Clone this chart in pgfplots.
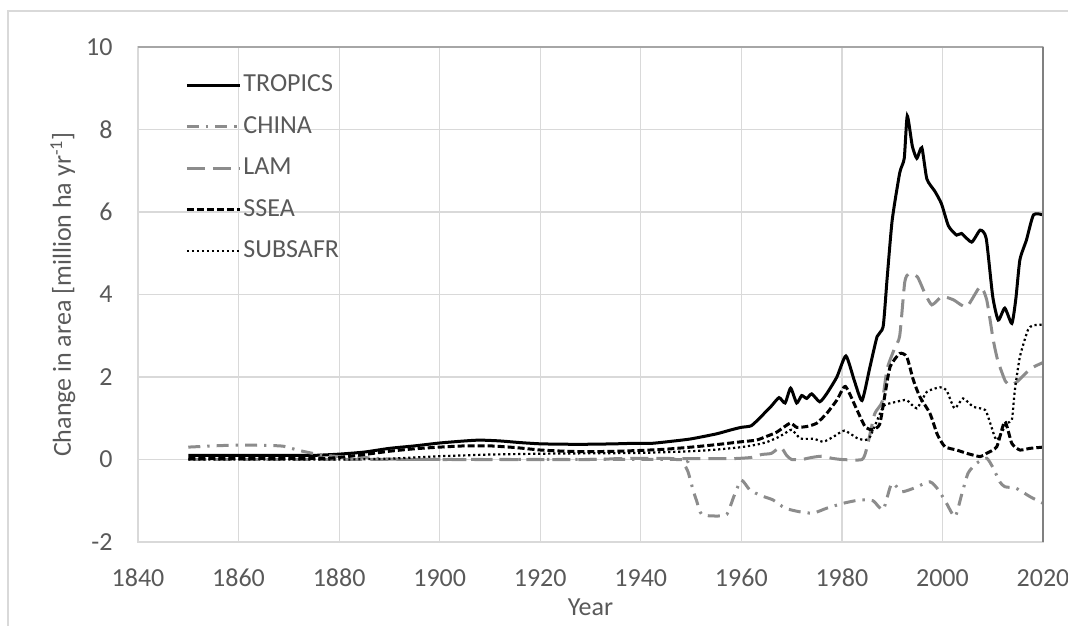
\documentclass[border=0pt]{standalone}
\usepackage{fontspec}
\setmainfont{Carlito}
\usepackage{pgfplots}
\pgfplotsset{compat=1.18}
\definecolor{gridgray}{HTML}{D9D9D9}
\definecolor{txtgray}{HTML}{595959}
\definecolor{linegray}{HTML}{8C8C8C}
\definecolor{boxgray}{HTML}{A6A6A6}
\begin{document}
\fontsize{13}{15.6}\selectfont
\begin{tikzpicture}
\useasboundingbox (-69pt,-41.5pt) rectangle (465pt,271pt);
\draw[gridgray, line width=0.75pt] (-65pt,-60pt) -- (-65pt,265.5pt) -- (480pt,265.5pt);
\begin{axis}[
  at={(0,0)}, anchor=south west,
  scale only axis, width=452.5pt, height=247.5pt,
  xmin=1840, xmax=2020, ymin=-2, ymax=10,
  xtick={1840,1860,...,2020}, ytick={-2,0,...,10},
  grid=major, major grid style={gridgray, line width=0.6pt},
  axis line style={gridgray, line width=0.6pt},
  major tick length=0pt,
  tick label style={text=txtgray, font=\fontsize{13}{15.6}\selectfont},
  /pgf/number format/assume math mode=true,
  /pgf/number format/1000 sep={},
  xticklabel style={anchor=center, inner sep=0pt, yshift=-18pt},
  yticklabel style={anchor=east, inner sep=0pt, xshift=-12.5pt},
  xlabel={Year}, ylabel={Change in area [million ha yr\textsuperscript{-1}]},
  label style={text=txtgray, font=\fontsize{13}{15.6}\selectfont},
  xlabel style={at={(axis description cs:0.5,-0.131)}, anchor=center},
  ylabel style={at={(axis description cs:-0.0829,0.5)}, anchor=center},
  legend cell align=left,
  legend style={at={(axis description cs:0.052,0.947)}, anchor=north west,
    draw=none, fill=none, text=txtgray, font=\fontsize{13}{15.6}\selectfont,
    row sep=9.25pt, column sep=1pt, inner sep=0pt,
    nodes={inner sep=0pt, text height=9pt, text depth=2.5pt}},
  legend image code/.code={\draw[#1] (0pt,0pt) -- (26.5pt,0pt);},
  clip=false,
]
\addplot[black, line width=1.5pt, smooth, tension=0.35] coordinates {
(1850,0.1)(1860,0.1)(1870,0.1)(1875,0.1)(1880,0.13)(1885,0.18)(1890,0.27)(1895,0.33)
(1900,0.4)(1905,0.45)(1908,0.47)(1912,0.45)(1916,0.41)(1920,0.38)(1925,0.37)(1930,0.37)
(1935,0.38)(1938,0.39)(1942,0.39)(1946,0.44)(1950,0.5)(1955,0.62)(1958,0.72)(1960,0.78)
(1962,0.82)(1964,1.05)(1966,1.3)(1967.5,1.5)(1968.7,1.37)(1969.8,1.73)(1971,1.37)(1972,1.55)
(1973,1.48)(1974,1.59)(1975.6,1.4)(1977,1.6)(1979,2.0)(1980.8,2.51)(1982.5,1.9)(1984,1.43)
(1985.5,2.2)(1987,2.98)(1988.2,3.22)(1989,4.4)(1990,5.8)(1991.5,6.95)(1992.4,7.3)(1993,8.33)
(1994,7.6)(1994.9,7.3)(1995.9,7.56)(1996.9,6.8)(1998.5,6.5)(1999.8,6.2)(2001.2,5.66)(2002.8,5.44)
(2003.8,5.48)(2005.8,5.27)(2007.5,5.56)(2008.7,5.36)(2010,3.95)(2011.1,3.38)(2012.4,3.67)(2013.8,3.3)
(2014.6,3.9)(2015.4,4.84)(2016.7,5.32)(2018.1,5.93)(2020,5.93)};
\addlegendentry{TROPICS}
\addplot[linegray, line width=1.5pt, smooth, tension=0.35, dash pattern=on 6pt off 3.5pt on 1.2pt off 3.5pt] coordinates {
(1850,0.3)(1855,0.33)(1860,0.35)(1866,0.34)(1869,0.32)(1872,0.22)(1876,0.12)(1880,0.07)
(1886,0.04)(1890,0.01)(1900,0.0)(1947,0.0)(1948.5,-0.1)(1949.4,-0.3)(1950.4,-0.74)(1951.1,-1.0)
(1952.1,-1.33)(1954.8,-1.37)(1957.1,-1.33)(1958.5,-0.9)(1960,-0.5)(1961.7,-0.74)(1964,-0.88)
(1966.3,-0.98)(1968.7,-1.18)(1971.7,-1.27)(1974.3,-1.3)(1977,-1.18)(1980.3,-1.06)(1983.6,-0.98)
(1986.2,-1.0)(1988.2,-1.22)(1989.9,-0.58)(1991.9,-0.78)(1994.2,-0.7)(1997.5,-0.54)(1999.2,-0.74)
(2000.8,-1.06)(2002.5,-1.39)(2003.8,-0.86)(2005.1,-0.33)(2006.8,-0.09)(2008.8,0.03)(2010.1,-0.21)
(2011.4,-0.54)(2012.4,-0.66)(2014.7,-0.7)(2017.4,-0.9)(2020,-1.06)};
\addlegendentry{CHINA}
\addplot[linegray, line width=1.5pt, smooth, tension=0.35, dash pattern=on 9pt off 4pt] coordinates {
(1850,0.0)(1900,0.0)(1930,0.0)(1935,0.02)(1940,0.03)(1950,0.02)(1958,0.02)(1962,0.05)
(1964,0.12)(1966,0.15)(1967.8,0.3)(1969,0.1)(1970,0.0)(1972,0.0)(1974,0.05)(1976,0.08)
(1978,0.03)(1980,0.0)(1984,0.0)(1985,0.3)(1986.5,1.1)(1988,1.4)(1989,2.2)(1990.5,2.7)
(1991.5,3.0)(1992.5,4.3)(1993.3,4.5)(1995,4.43)(1996.5,4.03)(1997.9,3.75)(1999.9,3.95)(2002.2,3.87)
(2004.8,3.7)(2007.5,4.19)(2008.8,3.87)(2010.1,2.9)(2011,2.4)(2012.5,1.9)(2013.5,1.8)(2015,1.9)
(2017.5,2.2)(2020,2.35)};
\addlegendentry{LAM}
\addplot[black, line width=1.5pt, smooth, tension=0.35, dash pattern=on 3.5pt off 1.5pt] coordinates {
(1850,0.02)(1875,0.02)(1880,0.05)(1885,0.12)(1890,0.2)(1895,0.26)(1900,0.3)(1905,0.33)
(1910,0.33)(1915,0.29)(1920,0.23)(1925,0.2)(1930,0.19)(1935,0.2)(1940,0.22)(1945,0.25)
(1950,0.3)(1955,0.36)(1960,0.43)(1963,0.47)(1965,0.56)(1967,0.66)(1969.7,0.88)(1971,0.78)
(1973,0.8)(1975,0.88)(1977,1.12)(1979,1.44)(1980.7,1.77)(1983,1.2)(1984.6,0.8)(1986,0.72)
(1987.5,0.85)(1988.6,1.6)(1989.6,2.25)(1991.5,2.57)(1992.9,2.49)(1994.2,1.93)(1995.5,1.52)(1997.5,1.12)
(1999,0.6)(2000.5,0.31)(2002.8,0.23)(2004.8,0.15)(2007.5,0.07)(2008.8,0.15)(2010.8,0.31)(2012.4,0.92)
(2013.8,0.39)(2015.4,0.23)(2017.4,0.27)(2020,0.3)};
\addlegendentry{SSEA}
\addplot[black, line width=1.1pt, smooth, tension=0.35, dash pattern=on 1.1pt off 1.4pt] coordinates {
(1850,0.0)(1880,0.0)(1890,0.02)(1895,0.05)(1900,0.08)(1905,0.1)(1910,0.12)(1920,0.14)
(1930,0.15)(1940,0.16)(1950,0.2)(1955,0.24)(1960,0.3)(1963,0.36)(1965,0.42)(1967,0.52)
(1968.5,0.62)(1970,0.72)(1971.7,0.51)(1973,0.5)(1974.5,0.5)(1976.3,0.43)(1978.3,0.55)(1980.5,0.7)
(1983,0.52)(1984.6,0.47)(1985.6,0.55)(1987.6,1.12)(1988.5,1.32)(1990.9,1.4)(1992.9,1.44)(1994.9,1.24)
(1996.9,1.64)(1999.5,1.75)(2000.8,1.68)(2002.4,1.24)(2004.1,1.48)(2006.1,1.28)(2008.5,1.2)(2009.5,0.88)
(2010.8,0.47)(2012.8,0.88)(2013.8,0.96)(2014.4,1.68)(2015.4,2.49)(2017,3.14)(2018,3.25)(2020,3.27)};
\addlegendentry{SUBSAFR}
\draw[boxgray, line width=0.75pt] (rel axis cs:0,1) -- (rel axis cs:1,1);
\draw[gray, line width=1pt] (rel axis cs:1,0) -- (rel axis cs:1,1);
\end{axis}
\end{tikzpicture}
\end{document}
